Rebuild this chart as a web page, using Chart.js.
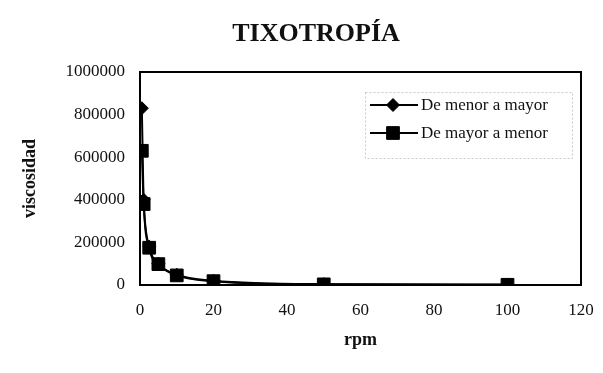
<!DOCTYPE html>
<html>
<head>
<meta charset="utf-8">
<script src="https://cdn.jsdelivr.net/npm/chart.js@4.4.1/dist/chart.umd.min.js"></script>
<style>
  html, body { margin: 0; padding: 0; background: #fff; }
  #wrap { width: 603px; height: 373px; position: relative; }
</style>
</head>
<body>
<div id="wrap"><canvas id="tixo"></canvas></div>
<script>
// ---- data ----
const chartTitle = "TIXOTROPÍA";
const xTitle = "rpm";
const yTitle = "viscosidad";
const rpm = [0.5, 1, 2.5, 5, 10, 20, 50, 100];
const menorAMayor = [830000, 400000, 180000, 100000, 48000, 20000, 4000, 2000];
const mayorAMenor = [630000, 380000, 175000, 98000, 45000, 18000, 3000, 1000];
const seriesLabels = ["De menor a mayor", "De mayor a menor"];

const serif = "'Liberation Serif', 'Times New Roman', serif";

function toPoints(xs, ys) {
    return xs.map((x, i) => ({ x: x, y: ys[i] }));
}

/* plot frame, title and the inside legend box */
const framePlugin = {
    id: "frame",
    beforeDatasetsDraw(chart) {
        const { ctx, chartArea: a } = chart;
        ctx.save();
        ctx.strokeStyle = "#000";
        ctx.lineWidth = 2;
        ctx.strokeRect(a.left, a.top, a.right - a.left, a.bottom - a.top);
        ctx.restore();
    },
    afterDraw(chart) {
        const ctx = chart.ctx;
        ctx.save();
        // title
        ctx.fillStyle = "#111";
        ctx.font = "bold 26px " + serif;
        ctx.textAlign = "center";
        ctx.textBaseline = "middle";
        ctx.fillText(chartTitle, 316, 34);

        // legend box
        ctx.strokeStyle = "#c8c8c8";
        ctx.lineWidth = 1;
        ctx.setLineDash([2, 2]);
        ctx.strokeRect(365.5, 92.5, 207, 66);
        ctx.setLineDash([]);

        chart.data.datasets.forEach((ds, i) => {
            const y = 105 + i * 28;
            ctx.strokeStyle = "#000";
            ctx.fillStyle = "#000";
            ctx.lineWidth = 2;
            ctx.beginPath();
            ctx.moveTo(370, y);
            ctx.lineTo(418, y);
            ctx.stroke();
            ctx.lineWidth = 1;
            Chart.helpers.drawPoint(ctx, {
                pointStyle: ds.pointStyle,
                radius: ds.pointRadius,
                rotation: 0,
                borderWidth: 1
            }, 393, y);
            ctx.fillStyle = "#111";
            ctx.font = "17px " + serif;
            ctx.textAlign = "left";
            ctx.textBaseline = "middle";
            ctx.fillText(ds.label, 421, y + 1);
        });
        ctx.restore();
    }
};

new Chart(document.getElementById("tixo"), {
    type: "scatter",
    data: {
        datasets: [
            {
                label: seriesLabels[0],
                data: toPoints(rpm, menorAMayor),
                showLine: true,
                borderColor: "#000",
                backgroundColor: "#000",
                borderWidth: 2,
                pointStyle: "rectRot",
                pointRadius: 6.5,
                pointBorderWidth: 1,
                cubicInterpolationMode: "monotone",
                order: 1
            },
            {
                label: seriesLabels[1],
                data: toPoints(rpm, mayorAMenor),
                showLine: true,
                borderColor: "#000",
                backgroundColor: "#000",
                borderWidth: 2,
                pointStyle: "rect",
                pointRadius: 9,
                pointBorderWidth: 1,
                cubicInterpolationMode: "monotone",
                order: 0
            }
        ]
    },
    options: {
        responsive: true,
        maintainAspectRatio: false,
        animation: false,
        layout: { padding: { top: 72, right: 22, left: 0, bottom: 0 } },
        plugins: {
            legend: { display: false },
            tooltip: { enabled: false }
        },
        scales: {
            x: {
                type: "linear",
                min: 0,
                max: 120,
                grid: { display: false, drawTicks: false },
                border: { display: false },
                ticks: {
                    stepSize: 20,
                    padding: 15,
                    color: "#111",
                    font: { family: serif, size: 17 }
                },
                title: {
                    display: true,
                    text: xTitle,
                    color: "#111",
                    font: { family: serif, size: 18, weight: "bold" },
                    padding: { top: 0, bottom: 22 }
                },
                afterFit(scale) {
                    scale.height = 88;
                    scale.paddingRight = 0;
                    scale.paddingLeft = 0;
                }
            },
            y: {
                min: 0,
                max: 1000000,
                grid: { display: false, drawTicks: false },
                border: { display: false },
                ticks: {
                    stepSize: 200000,
                    padding: 15,
                    color: "#111",
                    font: { family: serif, size: 17 },
                    callback: v => String(v)
                },
                title: {
                    display: true,
                    text: yTitle,
                    color: "#111",
                    font: { family: serif, size: 18, weight: "bold" },
                    padding: { top: 20, bottom: 0 }
                },
                afterFit(scale) {
                    scale.width = 140;
                    scale.paddingTop = 0;
                    scale.paddingBottom = 0;
                }
            }
        }
    },
    plugins: [framePlugin]
});
</script>
</body>
</html>
